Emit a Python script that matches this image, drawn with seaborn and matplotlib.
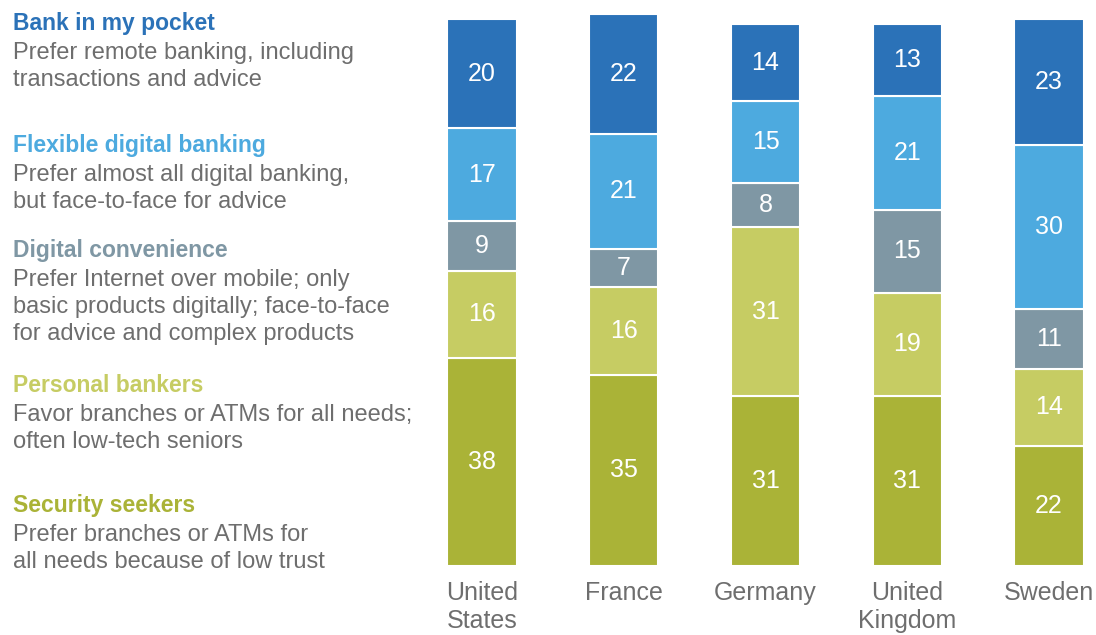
import matplotlib
matplotlib.use("Agg")
import matplotlib.pyplot as plt
import seaborn as sns
import numpy as np
import pandas as pd

# ---------------- data ----------------
countries = ["United\nStates", "France", "Germany", "United\nKingdom", "Sweden"]

segments = ["Bank in my pocket", "Flexible digital banking", "Digital convenience",
            "Personal bankers", "Security seekers"]
descriptions = [
    ["Prefer remote banking, including", "transactions and advice"],
    ["Prefer almost all digital banking,", "but face-to-face for advice"],
    ["Prefer Internet over mobile; only", "basic products digitally; face-to-face",
     "for advice and complex products"],
    ["Favor branches or ATMs for all needs;", "often low-tech seniors"],
    ["Prefer branches or ATMs for", "all needs because of low trust"],
]

bank_in_my_pocket = [20, 22, 14, 13, 23]
flexible_digital = [17, 21, 15, 21, 30]
digital_convenience = [9, 7, 8, 15, 11]
personal_bankers = [16, 16, 31, 19, 14]
security_seekers = [38, 35, 31, 31, 22]

series = [bank_in_my_pocket, flexible_digital, digital_convenience,
          personal_bankers, security_seekers]
colors = ["#2b72b8", "#4daadf", "#7f97a4", "#c6cc63", "#aab337"]

# ---------------- style ----------------
sns.set_theme(style="white")
plt.rcParams["font.family"] = ["Liberation Sans", "DejaVu Sans"]

W, H = 1096, 635
fig = plt.figure(figsize=(W / 100, H / 100), dpi=100)
ax = fig.add_axes([439.5 / W, 69 / H, 652 / W, 563.4 / H])

bottom = np.zeros(len(countries))
for idx in reversed(range(len(segments))):
    vals = np.array(series[idx], dtype=float)
    df = pd.DataFrame({"country": countries, "value": vals})
    sns.barplot(data=df, x="country", y="value", order=countries,
                bottom=bottom.copy(), color=colors[idx], saturation=1,
                width=0.49, errorbar=None, edgecolor="white", linewidth=1.5,
                ax=ax)
    container = ax.containers[-1]
    ax.bar_label(container, labels=[f"{int(v)}" for v in vals],
                 label_type="center", color="white", fontsize=18)
    bottom += vals

ax.set_xlim(-0.3, 4.3)
ax.set_ylim(0, 103)
ax.set_yticks([])
ax.set_xlabel("")
ax.set_ylabel("")
ax.tick_params(axis="x", length=0, pad=11, labelsize=18, labelcolor="#6e6e6e")
for lbl in ax.get_xticklabels():
    lbl.set_linespacing(1.2)
sns.despine(ax=ax, left=True, bottom=True)

# ---------------- left legend text ----------------
text_gray = "#6e6e6e"
title_baselines = [30, 152, 257, 392, 512]
for i, name in enumerate(segments):
    yb = title_baselines[i]
    fig.text(13 / W, 1 - yb / H, name, color=colors[i], fontsize=16.5,
             fontweight="bold", ha="left", va="baseline")
    for k, line in enumerate(descriptions[i]):
        y = yb + 29 + 27 * k
        fig.text(13 / W, 1 - y / H, line, color=text_gray, fontsize=17,
                 ha="left", va="baseline")

fig.savefig("out.png", dpi=100)
